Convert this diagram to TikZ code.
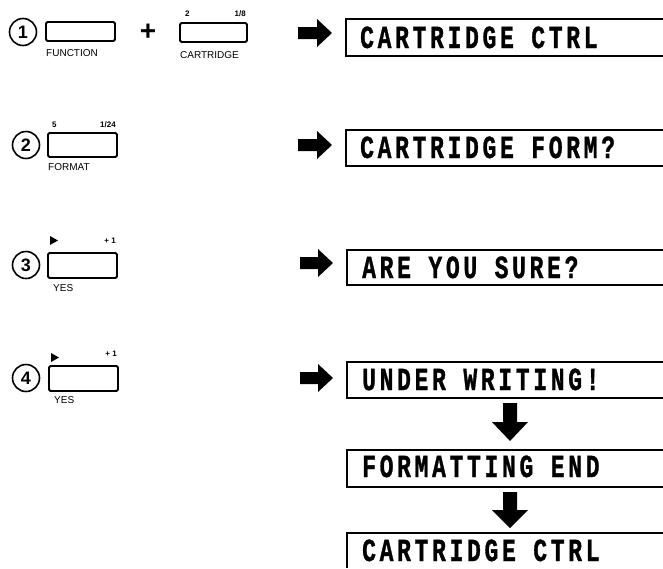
\documentclass[tikz,border=0pt]{standalone}
\usepackage{graphicx}
\usepackage{fontspec}
\setmainfont{Liberation Sans}
\newfontfamily\lcdfont[LetterSpace=16,BoldFeatures={FakeBold=1.2}]{Liberation Mono}
\newcommand{\lcdtext}[1]{\scalebox{1}[1.4]{\fontsize{23}{23}\lcdfont\bfseries #1}}
\begin{document}
\begin{tikzpicture}[x=1pt,y=-1pt,
  keybox/.style={draw,line width=1.8pt,rounded corners=1.5pt},
  keylabel/.style={font=\fontsize{10}{10}\selectfont,inner sep=0pt},
  keynum/.style={font=\fontsize{8}{8}\selectfont\bfseries,inner sep=0pt},
  stepnum/.style={draw,circle,line width=1.6pt,minimum size=27pt,inner sep=0pt,font=\fontsize{18}{18}\selectfont\bfseries},
  lcd/.style={inner sep=0pt,anchor=base west},
  dispbox/.style={line width=1.3pt},
  blockarrow/.style={fill=black}]
\useasboundingbox (0,0) rectangle (663,568);

% ---------- Row 1 ----------
\node[stepnum] (n1) at (23,32) {1};
\draw[keybox] (46,22) rectangle (115,41);
\node[keylabel,anchor=west] (l1) at (46,53) {FUNCTION};
\node[font=\fontsize{28}{28}\selectfont\bfseries,inner sep=0pt] (plus) at (148,32) {+};
\draw[keybox] (180,23) rectangle (247,42);
\node[keynum,anchor=west] (t1a) at (185,14) {2};
\node[keynum,anchor=east] (t1b) at (246,14) {1/8};
\node[keylabel,anchor=west] (l1b) at (180,55) {CARTRIDGE};

\fill[blockarrow] (298,27) -- (317,27) -- (317,19) -- (332,33) -- (317,47) -- (317,39) -- (298,39) -- cycle;
\draw[dispbox] (663,19) -- (346,19) -- (346,56) -- (663,56);
\node[lcd] (d1) at (360,48) {\lcdtext{CARTRIDGE CTRL}};

% ---------- Row 2 ----------
\node[stepnum] (n2) at (26,145) {2};
\draw[keybox] (48,133) rectangle (117,157);
\node[keynum,anchor=west] (t2a) at (52,125) {5};
\node[keynum,anchor=east] (t2b) at (116,125) {1/24};
\node[keylabel,anchor=west] (l2) at (48,167) {FORMAT};

\fill[blockarrow] (298,139) -- (317,139) -- (317,131) -- (332,145) -- (317,159) -- (317,151) -- (298,151) -- cycle;
\draw[dispbox] (663,130) -- (346,130) -- (346,166) -- (663,166);
\node[lcd] (d2) at (360,158) {\lcdtext{CARTRIDGE FORM?}};

% ---------- Row 3 ----------
\node[stepnum] (n3) at (26,265) {3};
\draw[keybox] (48,253) rectangle (117,278);
\fill (50,236) -- (58,240.5) -- (50,245) -- cycle;
\node[keynum,anchor=east] (t3b) at (116,241) {+ 1};
\node[keylabel,anchor=west] (l3) at (53,288) {YES};

\fill[blockarrow] (300,257) -- (318,257) -- (318,249) -- (333,263) -- (318,277) -- (318,269) -- (300,269) -- cycle;
\draw[dispbox] (663,250) -- (347,250) -- (347,285) -- (663,285);
\node[lcd] (d3) at (362,278) {\lcdtext{ARE YOU SURE?}};

% ---------- Row 4 ----------
\node[stepnum] (n4) at (26,378) {4};
\draw[keybox] (49,366) rectangle (118,391);
\fill (51,353) -- (59,357.5) -- (51,362) -- cycle;
\node[keynum,anchor=east] (t4b) at (117,354) {+ 1};
\node[keylabel,anchor=west] (l4) at (54,400) {YES};

\fill[blockarrow] (300,372) -- (318,372) -- (318,364) -- (333,378) -- (318,392) -- (318,384) -- (300,384) -- cycle;
\draw[dispbox] (663,362) -- (347,362) -- (347,398) -- (663,398);
\node[lcd] (d4) at (362,390) {\lcdtext{UNDER WRITING!}};

\fill[blockarrow] (503,403) -- (517,403) -- (517,422) -- (528,422) -- (510,441) -- (492,422) -- (503,422) -- cycle;

\draw[dispbox] (663,450) -- (347,450) -- (347,487) -- (663,487);
\node[lcd] (d5) at (362,477) {\lcdtext{FORMATTING END}};

\fill[blockarrow] (503,492) -- (517,492) -- (517,510) -- (528,510) -- (510,528) -- (492,510) -- (503,510) -- cycle;

\draw[dispbox] (663,533) -- (347,533) -- (347,568);
\node[lcd] (d6) at (362,561) {\lcdtext{CARTRIDGE CTRL}};
\end{tikzpicture}
\end{document}
